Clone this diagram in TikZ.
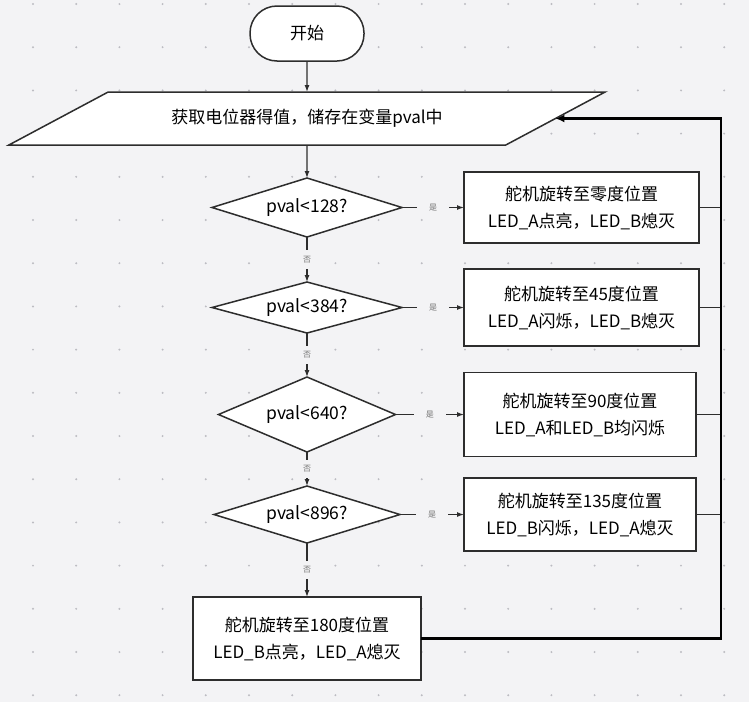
\documentclass[tikz,border=0pt]{standalone}
\usepackage{fontspec}
\setmainfont{Noto Sans CJK SC}
\usetikzlibrary{positioning,shapes.geometric,arrows.meta}
\tikzset{>={Latex[width=5pt,length=7pt]}}
\definecolor{bgc}{RGB}{243,243,245}
\definecolor{dotc}{RGB}{188,188,194}
\definecolor{linec}{RGB}{45,45,45}

\begin{document}
\begin{tikzpicture}[x=1pt, y=-1pt,
font=\fontsize{17}{27}\selectfont,
node distance=0pt,
term/.style = {draw=linec, fill=white, line width=1.5pt,
               rounded corners=27pt,
               minimum width=114pt, minimum height=55pt,
               outer sep=0pt},
io/.style = {trapezium, draw=linec, fill=white, line width=1.5pt,
             trapezium left angle=19.8, trapezium right angle=160.2,
             minimum width=597pt, minimum height=53pt,
             outer sep=0pt,
             trapezium stretches=true},
decision/.style = {diamond, draw=linec, fill=white, line width=1.5pt,
                   aspect=3.5, inner sep=0pt, outer sep=0pt,
                   font=\fontsize{17.5}{20}\selectfont},
process/.style = {draw=linec, fill=white, line width=1.5pt,
                  align=center, minimum width=235pt,
                  outer sep=0pt},
lbl/.style = {fill=bgc, text=black!55, font=\fontsize{8}{8}\selectfont,
              inner xsep=12pt, inner ysep=6pt},
flow/.style = {draw=linec, line width=1.2pt, ->},
link/.style = {draw=linec, line width=1.3pt},
back/.style = {draw=black, line width=2.2pt,
               -{Latex[width=8pt,length=9pt]}},
]
        % background with dot grid
        \fill[bgc] (0,0) rectangle (749,702);
        \useasboundingbox (0,0) rectangle (749,702);
        \foreach \i in {0,...,16}
          \foreach \j in {0,...,16}
            \fill[dotc] (33+43.2*\i, 4+43.2*\j) circle (1.1pt);
        % main column
        \node (start) [term] at (307,33.5) {开始};
        \node (read)  [io, below=31pt of start]
                      {获取电位器得值，储存在变量pval中};
        \node (dec1)  [decision, minimum width=190pt, minimum height=59pt,
                      below=33pt of read] {pval<128?};
        \node (dec2)  [decision, minimum width=190pt, minimum height=51pt,
                      below=45pt of dec1] {pval<384?};
        \node (dec3)  [decision, minimum width=177pt, minimum height=75pt,
                      below=44pt of dec2] {pval<640?};
        \node (dec4)  [decision, minimum width=186pt, minimum height=57pt,
                      below=34pt of dec3] {pval<896?};
        \node (act5)  [process, minimum width=228pt, minimum height=83pt,
                      line width=2pt, below=54pt of dec4]
                      {舵机旋转至180度位置\\LED\_B点亮，LED\_A熄灭};
        % right column
        \node (act1)  [process, minimum height=71pt, right=62pt of dec1]
                      {舵机旋转至零度位置\\LED\_A点亮，LED\_B熄灭};
        \node (act2)  [process, minimum height=77pt, right=62pt of dec2]
                      {舵机旋转至45度位置\\LED\_A闪烁，LED\_B熄灭};
        \node (act3)  [process, minimum width=232pt, minimum height=84pt,
                      right=68.5pt of dec3]
                      {舵机旋转至90度位置\\LED\_A和LED\_B均闪烁};
        \node (act4)  [process, minimum width=232pt, minimum height=73pt,
                      right=64pt of dec4]
                      {舵机旋转至135度位置\\LED\_B闪烁，LED\_A熄灭};
        \coordinate (rt) at (721,0 |- read.east);
        % arrows
        \draw[flow] (start) -- (read);
        \draw[flow] (read) -- (dec1);
        \draw[flow] (dec1) -- node[lbl] {否} (dec2);
        \draw[flow] (dec2) -- node[lbl] {否} (dec3);
        \draw[flow] (dec3) -- node[lbl] {否} (dec4);
        \draw[flow] (dec4.south) -- node[lbl] {否} (dec4.south |- act5.north);
        \foreach \k in {1,...,4}
        {
          \draw[flow] (dec\k.east) -- node[lbl] {是} (dec\k.east -| act\k.west);
          \draw[link] (act\k.east) -- (act\k.east -| rt);
        }
        \draw[back] (act5.east) -| (rt) -- (read.east);
    \end{tikzpicture}
\end{document}
